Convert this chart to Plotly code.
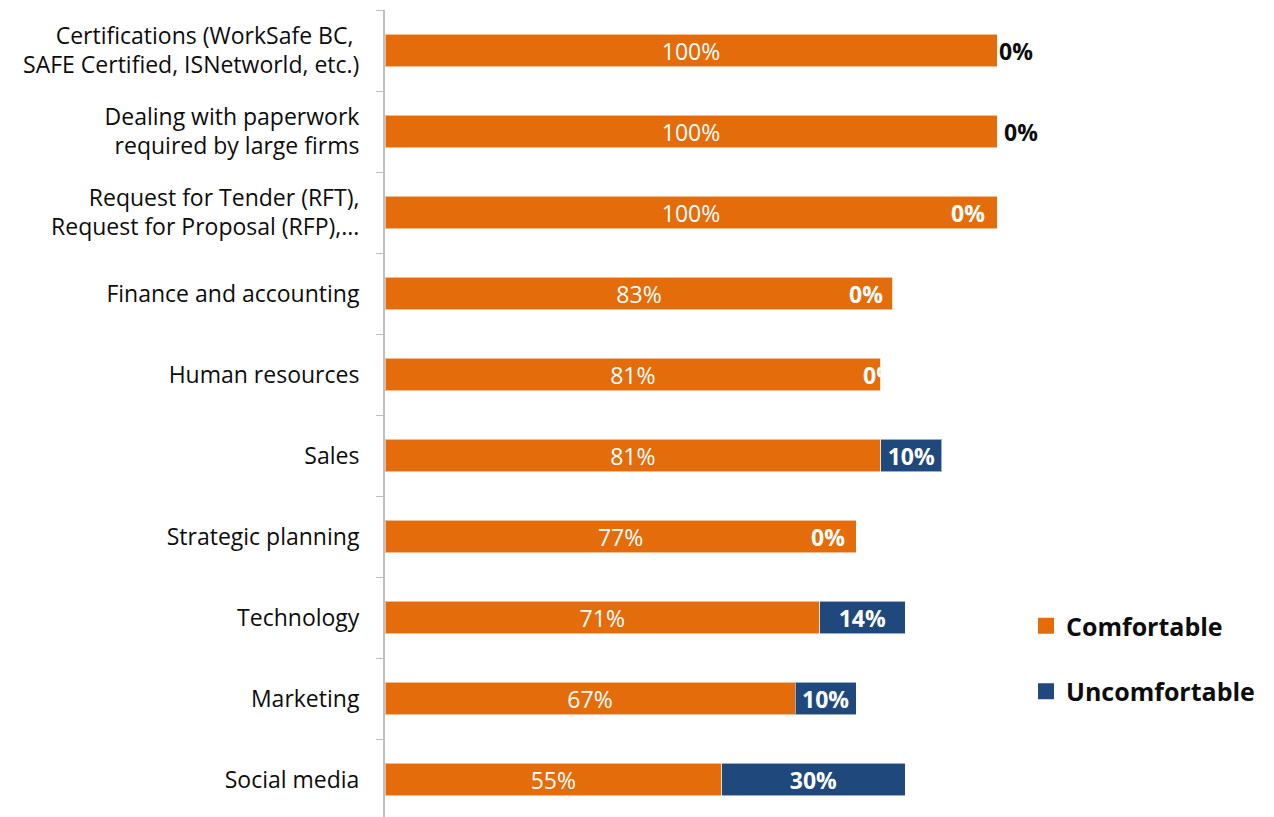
import plotly.graph_objects as go

# Survey: comfort level with business functions (share of respondents, %)
categories = [
    "Certifications (WorkSafe BC, <br>SAFE Certified, ISNetworld, etc.)",
    "Dealing with paperwork<br>required by large firms",
    "Request for Tender (RFT),<br>Request for Proposal (RFP),...",
    "Finance and accounting",
    "Human resources",
    "Sales",
    "Strategic planning",
    "Technology",
    "Marketing",
    "Social media",
]
comfortable = [100, 100, 100, 83, 81, 81, 77, 71, 67, 55]
uncomfortable = [0, 0, 0, 0, 0, 10, 0, 14, 10, 30]

# Placement tweaks for the labels of zero-width segments (px offset, colour)
zero_label_shift = [19, 24, -29, -27, -1, 0, -28, 0, 0, 0]
zero_label_color = ["#0d0d0d", "#0d0d0d", "white", "white", "white",
                    "white", "white", "white", "white", "white"]

ORANGE = "#E46C0A"
BLUE = "#1F497D"
FONT = "Open Sans"
EDGE = "rgba(255,255,255,0.55)"
SIZE = 23

fig = go.Figure()
fig.add_trace(go.Bar(
    y=categories, x=comfortable, orientation="h", name="Comfortable",
    marker=dict(color=ORANGE, line=dict(color=EDGE, width=1)),
    text=[f"{v}%" for v in comfortable], textposition="inside",
    insidetextanchor="middle", constraintext="none",
    textfont=dict(family=FONT, size=SIZE, color="white"),
    width=0.4, showlegend=False, hoverinfo="x+y",
))
fig.add_trace(go.Bar(
    y=categories, x=uncomfortable, orientation="h", name="Uncomfortable",
    marker=dict(color=BLUE, line=dict(color=EDGE, width=1)),
    text=[f"<b>{v}%</b>" if v else "" for v in uncomfortable], textposition="inside",
    insidetextanchor="middle", constraintext="none",
    textfont=dict(family=FONT, size=SIZE, color="white"),
    width=0.4, showlegend=False, hoverinfo="x+y",
))

# Legend entries with larger square swatches
for name, color, grp in [("Comfortable", ORANGE, "c"), ("Uncomfortable", BLUE, "u")]:
    fig.add_trace(go.Scatter(
        x=[None], y=[None], mode="markers", name=name, legendgroup=grp,
        marker=dict(symbol="square", size=16, color=color),
        showlegend=True, hoverinfo="skip",
    ))

# Labels for segments whose value is zero
for cat, c, u, dx, col in zip(categories, comfortable, uncomfortable,
                              zero_label_shift, zero_label_color):
    if u == 0:
        fig.add_annotation(
            x=c + u, y=cat, xref="x", yref="y", text=f"<b>{u}%</b>",
            showarrow=False, xshift=dx, xanchor="center",
            font=dict(family=FONT, size=SIZE, color=col),
        )

W, H = 1274, 817
left, top = 385, 10
px_per_pct = 6.12

fig.update_layout(
    width=W, height=H,
    margin=dict(l=left, r=0, t=top, b=0, pad=0),
    barmode="stack",
    paper_bgcolor="white", plot_bgcolor="white",
    font=dict(family=FONT, size=SIZE, color="#0d0d0d"),
    xaxis=dict(range=[0, (W - left) / px_per_pct], visible=False, fixedrange=True),
    yaxis=dict(
        type="category",
        range=[-0.5 + (H - top) / 81.0, -0.5],
        showline=True, linecolor="#bfbfbf", linewidth=2,
        ticks="outside", tickson="boundaries", ticklen=7,
        tickcolor="#bfbfbf", tickwidth=1,
        ticklabelstandoff=19,
        tickfont=dict(family=FONT, size=SIZE, color="#0d0d0d"),
        showgrid=False, zeroline=False, fixedrange=True,
    ),
    legend=dict(
        x=(1026 - left) / (W - left), y=1 - (603 - top) / (H - top),
        xanchor="left", yanchor="top",
        font=dict(family=FONT, size=25, color="#0d0d0d", weight="bold"),
        traceorder="grouped", tracegroupgap=30,
        bgcolor="rgba(0,0,0,0)", itemwidth=30,
    ),
    showlegend=True,
)

fig.write_html("out.html")
